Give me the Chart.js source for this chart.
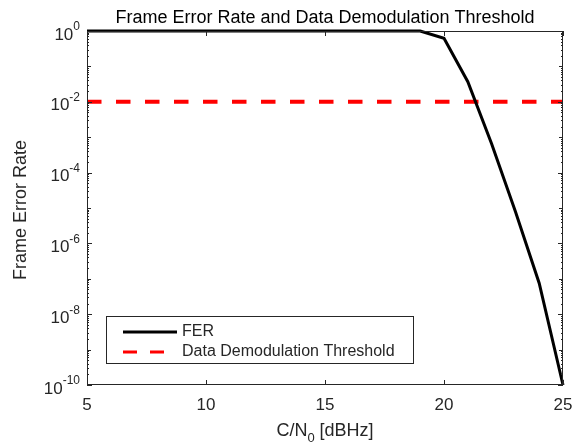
<!DOCTYPE html>
<html>
<head>
<meta charset="utf-8">
<script src="https://cdn.jsdelivr.net/npm/chart.js@4.4.1/dist/chart.umd.min.js"></script>
<style>
  html, body { margin: 0; padding: 0; background: #fff; }
  #wrap { width: 581px; height: 444px; }
</style>
</head>
<body>
<div id="wrap"><canvas id="graph" width="581" height="444"></canvas></div>
<script>
// C/N0 in dBHz
const snr = [5, 6, 7, 8, 9, 10, 11, 12, 13, 14, 15, 16, 17, 18, 19, 20, 21, 22, 23, 24, 25];
// frame error rate
const fer = [1, 1, 1, 1, 1, 1, 1, 1, 1, 1, 1, 1, 1, 1, 1, 0.62, 0.037, 6.5e-4, 8e-6, 7.5e-8, 1e-10];
const thresholdX = [5, 25];
const thresholdY = [0.01, 0.01];
const xTicks = [5, 10, 15, 20, 25];
const yExp = [0, -2, -4, -6, -8, -10];

const axisCol = '#262626';
const fontName = '"Liberation Sans", Arial, sans-serif';

const decor = {
  id: 'decor',
  afterDraw(chart) {
    const c = chart.ctx, a = chart.chartArea;
    const xs = chart.scales.x, ys = chart.scales.y;
    c.save();
    c.strokeStyle = axisCol;
    c.lineWidth = 1;
    // box
    c.strokeRect(a.left + 0.5, a.top + 0.5, a.right - a.left - 1, a.bottom - a.top - 1);
    // x ticks, inside, bottom and top
    c.beginPath();
    xTicks.forEach(v => {
      const px = Math.round(xs.getPixelForValue(v)) + 0.5;
      c.moveTo(px, a.bottom); c.lineTo(px, a.bottom - 5);
      c.moveTo(px, a.top); c.lineTo(px, a.top + 5);
    });
    // y ticks (major + minor), left and right
    for (let e = -10; e <= 0; e++) {
      const py = Math.round(ys.getPixelForValue(Math.pow(10, e))) + 0.5;
      const len = (e % 2 === 0) ? 5 : 4;
      c.moveTo(a.left, py); c.lineTo(a.left + len, py);
      c.moveTo(a.right, py); c.lineTo(a.right - len, py);
      if (e < 0) {
        for (let m = 2; m <= 9; m++) {
          const my = Math.round(ys.getPixelForValue(m * Math.pow(10, e))) + 0.5;
          c.moveTo(a.left, my); c.lineTo(a.left + 2, my);
          c.moveTo(a.right, my); c.lineTo(a.right - 2, my);
        }
      }
    }
    c.stroke();

    c.fillStyle = axisCol;
    // x tick labels
    c.font = '17px ' + fontName;
    c.textAlign = 'center';
    c.textBaseline = 'middle';
    xTicks.forEach(v => c.fillText(String(v), xs.getPixelForValue(v), a.bottom + 20));

    // y tick labels 10^e
    yExp.forEach(e => {
      const py = ys.getPixelForValue(Math.pow(10, e));
      c.font = '12px ' + fontName;
      const ew = c.measureText(String(e)).width;
      c.font = '17px ' + fontName;
      const bw = c.measureText('10').width;
      const right = a.left - 7;
      c.textAlign = 'left';
      c.fillText('10', right - ew - bw, py + 4);
      c.font = '12px ' + fontName;
      c.fillText(String(e), right - ew, py - 4);
    });

    // title
    c.font = '18px ' + fontName;
    c.textAlign = 'center';
    c.fillStyle = '#000';
    c.fillText('Frame Error Rate and Data Demodulation Threshold', (a.left + a.right) / 2, 18);

    // x axis title with subscript
    c.fillStyle = axisCol;
    c.font = '18px ' + fontName;
    const p1 = 'C/N', p3 = ' [dBHz]';
    const w1 = c.measureText(p1).width, w3 = c.measureText(p3).width;
    c.font = '13px ' + fontName;
    const w2 = c.measureText('0').width;
    let sx = (a.left + a.right) / 2 - (w1 + w2 + w3) / 2;
    c.textAlign = 'left';
    c.font = '18px ' + fontName;
    c.fillText(p1, sx, 431);
    c.font = '13px ' + fontName;
    c.fillText('0', sx + w1, 438);
    c.font = '18px ' + fontName;
    c.fillText(p3, sx + w1 + w2, 431);

    // y axis title
    c.save();
    c.translate(21, 210);
    c.rotate(-Math.PI / 2);
    c.textAlign = 'center';
    c.fillText('Frame Error Rate', 0, 0);
    c.restore();

    // legend
    const lx = 106, ly = 316, lw = 307, lh = 47;
    c.fillStyle = '#fff';
    c.fillRect(lx, ly, lw, lh);
    c.strokeStyle = axisCol;
    c.strokeRect(lx + 0.5, ly + 0.5, lw, lh);
    c.lineWidth = 3;
    c.strokeStyle = '#000';
    c.beginPath(); c.moveTo(123, 332); c.lineTo(177, 332); c.stroke();
    c.strokeStyle = '#ff0000';
    c.setLineDash([14, 13]);
    c.beginPath(); c.moveTo(123, 352); c.lineTo(177, 352); c.stroke();
    c.setLineDash([]);
    c.fillStyle = axisCol;
    c.font = '16px ' + fontName;
    c.textAlign = 'left';
    c.fillText('FER', 182, 332);
    c.fillText('Data Demodulation Threshold', 182, 352);
    c.restore();
  }
};

let ctx = document.getElementById('graph').getContext('2d');
let chart = new Chart(ctx, {
  type: 'line',
  data: {
    datasets: [{
      label: 'FER',
      data: snr.map((x, i) => ({ x: x, y: fer[i] })),
      borderColor: '#000',
      borderWidth: 3,
      pointRadius: 0,
      tension: 0,
      clip: 4,
      order: 1
    }, {
      label: 'Data Demodulation Threshold',
      data: thresholdX.map((x, i) => ({ x: x, y: thresholdY[i] })),
      borderColor: '#ff0000',
      borderWidth: 4,
      borderDash: [14.5, 14.5],
      pointRadius: 0,
      order: 2
    }]
  },
  options: {
    responsive: false,
    animation: false,
    layout: { padding: { top: 31, right: 18, left: 0, bottom: 0 } },
    plugins: { legend: { display: false }, title: { display: false }, tooltip: { enabled: false } },
    scales: {
      x: {
        type: 'linear', min: 5, max: 25,
        grid: { display: false },
        border: { display: false },
        ticks: { display: false },
        afterFit: s => { s.height = 59; }
      },
      y: {
        type: 'logarithmic', min: 1e-10, max: 1,
        grid: { display: false },
        border: { display: false },
        ticks: { display: false },
        afterFit: s => { s.width = 87; }
      }
    }
  },
  plugins: [decor]
});
</script>
</body>
</html>
